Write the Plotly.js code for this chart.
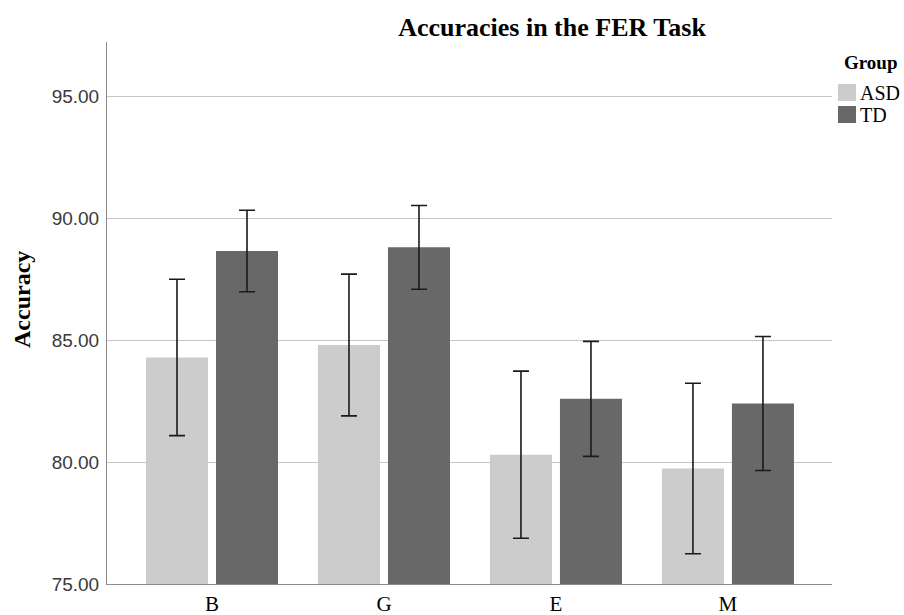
<!DOCTYPE html>
<html>
<head>
<meta charset="utf-8">
<script src="https://cdn.plot.ly/plotly-3.0.1.min.js"></script>
<style>
  html, body { margin: 0; padding: 0; background: #fff; }
  #chart { width: 904px; height: 615px; }
</style>
</head>
<body>
<div id="chart"></div>
<script>
// ---- data ----
var categories = ['B', 'G', 'E', 'M'];
var groupNames = ['ASD', 'TD'];
var asdMean = [84.30, 84.81, 80.31, 79.74];
var asdErr  = [3.21, 2.91, 3.43, 3.50];
var tdMean  = [88.67, 88.82, 82.60, 82.41];
var tdErr   = [1.67, 1.72, 2.36, 2.75];
var yTicks  = [75, 80, 85, 90, 95];

var colors = ['#cccccc', '#686868'];

var W = 904, H = 615;
var L = 107, R = 72, T = 42, B = 31;
var pw = W - L - R, ph = H - T - B;
function px2x(px) { return (px - L) / pw; }
function py2y(py) { return (H - B - py) / ph; }

function errSpec(arr) {
  return { type: 'data', array: arr, visible: true, color: '#1a1a1a', thickness: 1.6, width: 8 };
}

var traces = [
  { type: 'bar', name: groupNames[0], x: categories, y: asdMean,
    marker: { color: colors[0], line: { width: 0 } }, error_y: errSpec(asdErr), hoverinfo: 'x+y' },
  { type: 'bar', name: groupNames[1], x: categories, y: tdMean,
    marker: { color: colors[1], line: { width: 0 } }, error_y: errSpec(tdErr), hoverinfo: 'x+y' }
];

// custom legend
var shapes = [];
var annotations = [];
var swY = [[84, 101], [106, 123]];
groupNames.forEach(function (g, i) {
  shapes.push({ type: 'rect', xref: 'paper', yref: 'paper',
    x0: px2x(838), x1: px2x(856), y0: py2y(swY[i][1]), y1: py2y(swY[i][0]),
    fillcolor: colors[i], line: { width: 0 } });
  annotations.push({ xref: 'paper', yref: 'paper', x: px2x(858), y: py2y((swY[i][0] + swY[i][1]) / 2),
    xanchor: 'left', yanchor: 'middle', showarrow: false, text: g,
    font: { family: 'Liberation Serif, Times New Roman, serif', size: 20, color: '#000' } });
});
annotations.push({ xref: 'paper', yref: 'paper', x: px2x(871), y: py2y(62),
  xanchor: 'center', yanchor: 'middle', showarrow: false, text: '<b>Group</b>',
  font: { family: 'Liberation Serif, Times New Roman, serif', size: 19, color: '#000' } });
// y axis title
annotations.push({ xref: 'paper', yref: 'paper', x: px2x(22), y: py2y(300),
  xanchor: 'center', yanchor: 'middle', showarrow: false, textangle: -90, text: '<b>Accuracy</b>',
  font: { family: 'Liberation Serif, Times New Roman, serif', size: 24, color: '#000' } });

var layout = {
  width: W, height: H,
  margin: { l: L, r: R, t: T, b: B, pad: 0 },
  paper_bgcolor: '#fff', plot_bgcolor: '#fff',
  showlegend: false,
  barmode: 'group', bargap: 0.186, bargroupgap: 0.114,
  title: { text: '<b>Accuracies in the FER Task</b>', xref: 'paper', x: px2x(552), xanchor: 'center',
    yref: 'container', y: 1 - 27 / H, yanchor: 'middle',
    font: { family: 'Liberation Serif, Times New Roman, serif', size: 26, color: '#000' } },
  xaxis: {
    type: 'category', range: [-0.6105, 3.605], showgrid: false, zeroline: false,
    showline: true, linecolor: '#8c8c8c', linewidth: 1, ticks: '',
    tickfont: { family: 'Liberation Serif, Times New Roman, serif', size: 21, color: '#000' },
    ticklabelstandoff: 1, fixedrange: true
  },
  yaxis: {
    range: [75, 97.25], tickvals: yTicks, tickformat: '.2f',
    showgrid: true, gridcolor: '#c4c4c4', gridwidth: 1, zeroline: false,
    showline: true, linecolor: '#8c8c8c', linewidth: 1, ticks: '',
    tickfont: { family: 'Liberation Sans, Arial, sans-serif', size: 19, color: '#3a3a3a' },
    ticklabelstandoff: 3, fixedrange: true
  },
  shapes: shapes,
  annotations: annotations
};

Plotly.newPlot('chart', traces, layout, { displayModeBar: false, staticPlot: true });
</script>
</body>
</html>
